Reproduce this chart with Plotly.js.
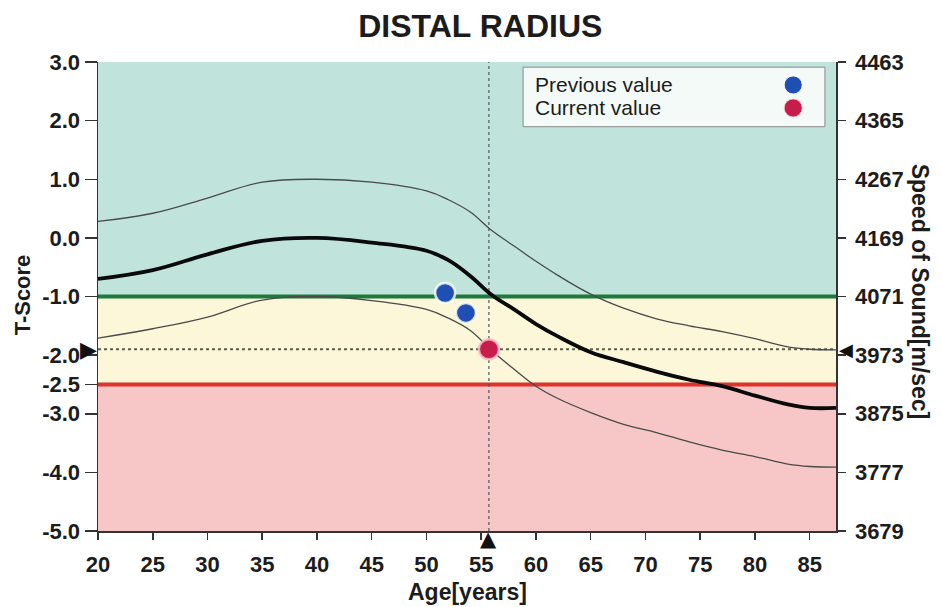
<!DOCTYPE html>
<html>
<head>
<meta charset="utf-8">
<script src="https://cdn.plot.ly/plotly-3.0.1.min.js"></script>
<style>
html,body{margin:0;padding:0;background:#fff;}
#chart{width:942px;height:607px;}
</style>
</head>
<body>
<div id="chart"></div>
<script>
// ---- data ----
const ages   = [20, 25, 30, 35, 40, 45, 50, 52, 54, 56, 58, 60, 62, 65, 68, 71, 74, 77, 80, 83, 85, 87.4];
const meanT  = [-0.70, -0.55, -0.28, -0.05, 0.00, -0.08, -0.22, -0.38, -0.65, -0.98, -1.22, -1.47, -1.68, -1.95, -2.12, -2.28, -2.42, -2.53, -2.69, -2.84, -2.90, -2.90];
const upperT = [0.28, 0.42, 0.68, 0.95, 1.00, 0.95, 0.80, 0.65, 0.44, 0.12, -0.14, -0.40, -0.64, -0.96, -1.20, -1.38, -1.50, -1.60, -1.72, -1.86, -1.90, -1.91];
const lowerT = [-1.71, -1.55, -1.35, -1.06, -1.00, -1.07, -1.22, -1.37, -1.58, -1.93, -2.24, -2.53, -2.74, -2.98, -3.18, -3.32, -3.48, -3.62, -3.73, -3.86, -3.90, -3.91];

const previousAges = [51.7, 53.6];
const previousT    = [-0.94, -1.28];
const currentAge   = [55.7];
const currentT     = [-1.90];

const legendNames  = ["Previous value", "Current value"];

const xTicks   = [20, 25, 30, 35, 40, 45, 50, 55, 60, 65, 70, 75, 80, 85];
const tTicks   = [3, 2, 1, 0, -1, -2, -2.5, -3, -4, -5];
const sosTicks = [3679, 3777, 3875, 3973, 4071, 4169, 4267, 4365, 4463];

const osteopeniaT   = -1.0;
const osteoporosisT = -2.5;
const tRange   = [-5, 3];
const sosRange = [3679, 4463];
const ageRange = [20, 87.4];

// ---- styles ----
const FONT = "Liberation Sans, Arial, sans-serif";
const INK = "#1c1c1c";
const blue = "#1f4fb4";
const red = "#c81d4c";

const traces = [
  {x: ages, y: upperT, mode: "lines", line: {color: "#4a4a4a", width: 1.3, shape: "spline", smoothing: 1.1}, hoverinfo: "skip", showlegend: false},
  {x: ages, y: lowerT, mode: "lines", line: {color: "#4a4a4a", width: 1.3, shape: "spline", smoothing: 1.1}, hoverinfo: "skip", showlegend: false},
  {x: ages, y: meanT,  mode: "lines", line: {color: "#0a0a0a", width: 3.8, shape: "spline", smoothing: 1.1}, hoverinfo: "skip", showlegend: false},
  {x: previousAges, y: previousT, mode: "markers", name: legendNames[0], showlegend: false,
   marker: {size: 20, color: blue, line: {color: "rgba(255,255,255,0.8)", width: 2.5}}},
  {x: currentAge, y: currentT, mode: "markers", name: legendNames[1], showlegend: false,
   marker: {size: 20, color: red, line: {color: "rgba(255,190,200,0.8)", width: 2.5}}},
  {x: [null], y: [null], yaxis: "y2", mode: "markers", showlegend: false, hoverinfo: "skip"}
];

const shapes = [
  {type: "rect", xref: "paper", x0: 0, x1: 1, yref: "y", y0: osteopeniaT, y1: tRange[1], fillcolor: "#c0e4dc", line: {width: 0}, layer: "below"},
  {type: "rect", xref: "paper", x0: 0, x1: 1, yref: "y", y0: osteoporosisT, y1: osteopeniaT, fillcolor: "#fbf7d8", line: {width: 0}, layer: "below"},
  {type: "rect", xref: "paper", x0: 0, x1: 1, yref: "y", y0: tRange[0], y1: osteoporosisT, fillcolor: "#f7c7c7", line: {width: 0}, layer: "below"},
  {type: "line", xref: "paper", x0: 0, x1: 1, yref: "y", y0: osteopeniaT, y1: osteopeniaT, line: {color: "#1c7a3c", width: 4}, layer: "below"},
  {type: "line", xref: "paper", x0: 0, x1: 1, yref: "y", y0: osteoporosisT, y1: osteoporosisT, line: {color: "#e0312b", width: 4}, layer: "below"},
  {type: "line", xref: "paper", x0: 0, x1: 1, yref: "y", y0: currentT[0], y1: currentT[0], line: {color: "#5e5e4e", width: 2, dash: "dot"}, layer: "below"},
  {type: "line", xref: "x", x0: currentAge[0], x1: currentAge[0], yref: "paper", y0: 0, y1: 1, line: {color: "#4f5a60", width: 1.2, dash: "dot"}, layer: "below"},
  // custom legend box
  {type: "rect", xref: "paper", yref: "paper", x0: 0.576, x1: 0.985, y0: 0.862, y1: 0.989, fillcolor: "rgba(247,252,250,0.92)", line: {color: "#8a8a8a", width: 1}},
  {type: "circle", xref: "paper", yref: "paper", xsizemode: "pixel", ysizemode: "pixel", xanchor: 0.942, yanchor: 0.951, x0: -9, x1: 9, y0: -9, y1: 9, fillcolor: blue, line: {color: "rgba(255,255,255,0.8)", width: 1}},
  {type: "circle", xref: "paper", yref: "paper", xsizemode: "pixel", ysizemode: "pixel", xanchor: 0.942, yanchor: 0.902, x0: -9, x1: 9, y0: -9, y1: 9, fillcolor: red, line: {color: "rgba(255,190,200,0.8)", width: 1}}
];

const annotations = [
  {text: legendNames[0], xref: "paper", yref: "paper", x: 0.589, y: 0.951, xanchor: "left", yanchor: "middle", showarrow: false, font: {family: FONT, size: 21, color: INK}},
  {text: legendNames[1], xref: "paper", yref: "paper", x: 0.589, y: 0.902, xanchor: "left", yanchor: "middle", showarrow: false, font: {family: FONT, size: 21, color: INK}},
  {text: "T-Score", xref: "paper", yref: "paper", x: -0.102, y: 0.504, textangle: -90, xanchor: "center", yanchor: "middle", showarrow: false, font: {family: FONT, size: 22, color: INK, weight: "bold"}},
  {text: "Speed of Sound[m/sec]", xref: "paper", yref: "paper", x: 1.114, y: 0.51, textangle: 90, xanchor: "center", yanchor: "middle", showarrow: false, font: {family: FONT, size: 23, color: INK, weight: "bold"}},
  {text: "Age[years]", xref: "paper", yref: "paper", x: 0.5, y: -0.131, xanchor: "center", yanchor: "middle", showarrow: false, font: {family: FONT, size: 23, color: INK, weight: "bold"}},
  {text: "\u25B6", xref: "paper", yref: "y", x: 0, y: currentT[0], xanchor: "right", yanchor: "middle", xshift: 0, borderpad: 0, showarrow: false, font: {family: "DejaVu Sans", size: 22, color: "#111"}},
  {text: "\u25C0", xref: "paper", yref: "y", x: 1, y: currentT[0], xanchor: "left", yanchor: "middle", xshift: 2, borderpad: 0, showarrow: false, font: {family: "DejaVu Sans", size: 18, color: "#111"}},
  {text: "\u25B2", xref: "x", yref: "paper", x: currentAge[0], y: 0, xanchor: "center", yanchor: "top", yshift: 5, borderpad: 0, showarrow: false, font: {family: "DejaVu Sans", size: 21, color: "#111"}}
];

const axisCommon = {showgrid: false, zeroline: false, showline: true, linecolor: "#333", linewidth: 1.5,
  ticks: "outside", tickcolor: "#333", tickwidth: 1.5,
  tickfont: {family: FONT, size: 22, color: INK, weight: "bold"}};

const layout = {
  width: 942, height: 607,
  margin: {l: 98, r: 106, t: 62, b: 76},
  paper_bgcolor: "#ffffff", plot_bgcolor: "#ffffff",
  showlegend: false,
  title: {text: "DISTAL RADIUS", x: 0.518, xanchor: "center", xref: "paper", y: 0.957, yref: "container", yanchor: "middle",
          font: {family: FONT, size: 32, color: INK, weight: "bold"}},
  xaxis: Object.assign({}, axisCommon, {range: ageRange, tickmode: "array", tickvals: xTicks, ticklen: 7, ticklabelstandoff: 6}),
  yaxis: Object.assign({}, axisCommon, {range: tRange, tickmode: "array", tickvals: tTicks,
          ticktext: tTicks.map(v => v.toFixed(1)), ticklen: 12}),
  yaxis2: Object.assign({}, axisCommon, {range: sosRange, overlaying: "y", side: "right", anchor: "x",
          tickmode: "array", tickvals: sosTicks, ticktext: sosTicks.map(String), ticklen: 8, ticklabelstandoff: 5}),
  shapes: shapes,
  annotations: annotations
};

Plotly.newPlot("chart", traces, layout, {displayModeBar: false, staticPlot: true});
</script>
</body>
</html>
